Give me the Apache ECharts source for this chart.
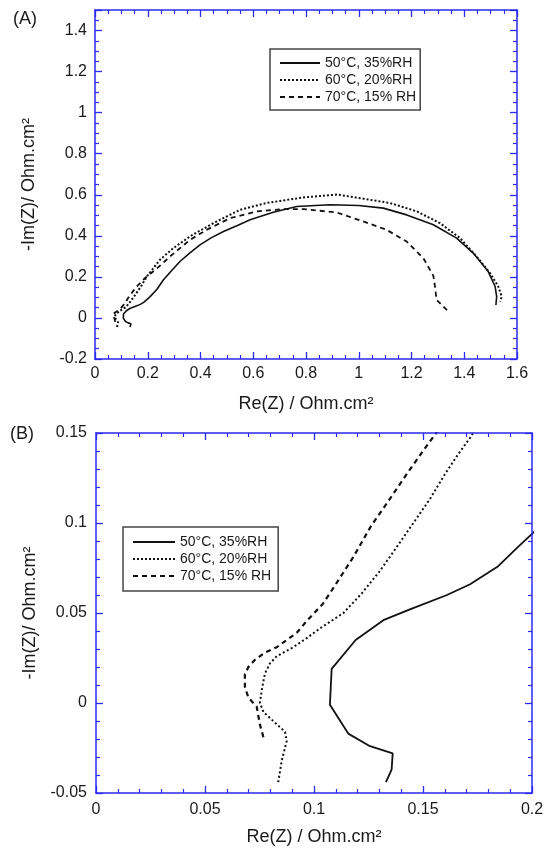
<!DOCTYPE html>
<html>
<head>
<meta charset="utf-8">
<script src="https://cdn.jsdelivr.net/npm/echarts@6/dist/echarts.min.js"></script>
<style>
html,body{margin:0;padding:0;background:#fff;}
#c{width:553px;height:856px;}
</style>
</head>
<body>
<div id="c"></div>
<script>
// ---- data (Re(Z), -Im(Z)) in Ohm.cm2 ----
const seriesNames = ['50°C, 35%RH', '60°C, 20%RH', '70°C, 15% RH'];

const s50 = [[0.133,-0.044],[0.1356,-0.037],[0.1361,-0.028],[0.1257,-0.024],[0.1157,-0.017],[0.1073,-0.001],[0.1081,0.019],[0.1191,0.035],[0.1318,0.046],[0.144,0.052],[0.161,0.060],[0.1716,0.066],[0.1845,0.076],[0.193,0.086],[0.2,0.094],[0.209,0.104],[0.235,0.14],[0.259,0.185],[0.29,0.23],[0.322,0.275],[0.36,0.317],[0.398,0.356],[0.44,0.39],[0.487,0.421],[0.54,0.45],[0.588,0.478],[0.676,0.515],[0.765,0.543],[0.891,0.551],[1.0,0.548],[1.093,0.535],[1.182,0.502],[1.283,0.454],[1.371,0.389],[1.434,0.316],[1.491,0.226],[1.517,0.153],[1.523,0.104],[1.520,0.063]];

const s60 = [[0.0836,-0.044],[0.0852,-0.032],[0.0875,-0.021],[0.0867,-0.016],[0.0813,-0.010],[0.0768,-0.005],[0.0752,0.0],[0.076,0.007],[0.0775,0.0165],[0.0798,0.022],[0.0829,0.026],[0.0905,0.031],[0.0966,0.036],[0.1028,0.0415],[0.1135,0.05],[0.122,0.061],[0.130,0.073],[0.137,0.085],[0.145,0.099],[0.153,0.113],[0.160,0.127],[0.166,0.138],[0.172,0.148],[0.196,0.201],[0.246,0.283],[0.297,0.34],[0.36,0.397],[0.449,0.462],[0.55,0.527],[0.651,0.56],[0.79,0.587],[0.92,0.601],[0.992,0.586],[1.118,0.56],[1.22,0.519],[1.308,0.462],[1.384,0.389],[1.447,0.299],[1.498,0.218],[1.529,0.153],[1.542,0.104],[1.536,0.08]];

const s70 = [[0.0768,-0.019],[0.0752,-0.012],[0.0737,-0.002],[0.0699,0.003],[0.0683,0.009],[0.0683,0.016],[0.0699,0.020],[0.0729,0.024],[0.0775,0.028],[0.0829,0.031],[0.0875,0.035],[0.0921,0.039],[0.097,0.046],[0.104,0.055],[0.110,0.066],[0.118,0.081],[0.126,0.098],[0.134,0.112],[0.143,0.128],[0.150,0.140],[0.156,0.150],[0.19,0.195],[0.234,0.24],[0.284,0.299],[0.36,0.38],[0.423,0.429],[0.512,0.486],[0.613,0.519],[0.714,0.530],[0.79,0.53],[0.916,0.514],[1.017,0.47],[1.106,0.429],[1.182,0.372],[1.245,0.291],[1.283,0.205],[1.289,0.153],[1.295,0.088],[1.34,0.031]];

// axis ranges [min, max, step]
const xAxisA = [0, 1.6, 0.2];
const yAxisA = [-0.2, 1.5, 0.2];
const xAxisB = [0, 0.2, 0.05];
const yAxisB = [-0.05, 0.15, 0.05];
const xTitle = 'Re(Z) / Ohm.cm²';
const yTitle = '-Im(Z)/ Ohm.cm²';
const panelLabels = ['(A)', '(B)'];

// ---- styles ----
const BLUE = '#2a2af0';
const FONT = '"Liberation Sans", Arial, sans-serif';
const TXT = '#1a1a1a';

function axis(kind, grid, r, minorSplit, opts) {
  opts = opts || {};
  const a = {
    type: 'value', gridIndex: grid, min: r[0], max: r[1], interval: r[2],
    position: opts.position,
    axisLine: { show: true, onZero: false, lineStyle: { color: BLUE, width: 1.5 } },
    axisTick: { show: true, inside: true, length: 7, lineStyle: { color: BLUE, width: 1.3 } },
    minorTick: { show: true, splitNumber: minorSplit, length: 4, lineStyle: { color: BLUE, width: 1.2 } },
    splitLine: { show: false },
    minorSplitLine: { show: false },
    axisLabel: { show: !opts.mirror, color: TXT, fontSize: 16, fontFamily: FONT, margin: opts.margin || 8,
      showMaxLabel: opts.hideMax ? false : true },
    z: 5
  };
  if (opts.name) {
    a.name = opts.name;
    a.nameLocation = 'middle';
    a.nameGap = opts.nameGap;
    a.nameTextStyle = { color: TXT, fontSize: 18, fontFamily: FONT };
  }
  return a;
}

function lineSeries(name, data, xi, yi, type, width) {
  return {
    type: 'line', name: name, data: data, xAxisIndex: xi, yAxisIndex: yi,
    showSymbol: false, symbol: 'none', smooth: false, clip: true, animation: false,
    itemStyle: { color: '#111' },
    lineStyle: { color: '#111', width: width, type: type }
  };
}

const chart = echarts.init(document.getElementById('c'), null, { renderer: 'canvas' });

const legendBase = {
  orient: 'vertical', itemWidth: 40, itemHeight: 14, itemGap: 3,
  borderColor: '#444', borderWidth: 1.5, backgroundColor: '#fff',
  textStyle: { color: TXT, fontSize: 14, fontFamily: FONT, lineHeight: 14 },
  itemStyle: { opacity: 0 },
  data: seriesNames, selectedMode: false
};

chart.setOption({
  animation: false,
  backgroundColor: '#fff',
  grid: [
    { left: 95, top: 10, width: 422, height: 349 },
    { left: 96, top: 433, width: 436, height: 360 }
  ],
  xAxis: [
    axis('x', 0, xAxisA, 4, { position: 'bottom', name: xTitle, nameGap: 36, margin: 7 }),
    axis('x', 0, xAxisA, 4, { position: 'top', mirror: true }),
    axis('x', 1, xAxisB, 5, { position: 'bottom', name: xTitle, nameGap: 35, margin: 9 }),
    axis('x', 1, xAxisB, 5, { position: 'top', mirror: true })
  ],
  yAxis: [
    axis('y', 0, yAxisA, 4, { position: 'left', name: yTitle, nameGap: 57, hideMax: true }),
    axis('y', 0, yAxisA, 4, { position: 'right', mirror: true }),
    axis('y', 1, yAxisB, 5, { position: 'left', name: yTitle, nameGap: 57, margin: 9 }),
    axis('y', 1, yAxisB, 5, { position: 'right', mirror: true })
  ],
  legend: [
    Object.assign({}, legendBase, { left: 270, top: 49, padding: [7, 4, 6, 9] }),
    Object.assign({}, legendBase, { left: 123, top: 527, padding: [8, 7, 8, 9], itemWidth: 42 })
  ],
  graphic: [
    { type: 'text', left: 13, top: 10, style: { text: panelLabels[0], fill: TXT, font: '18px ' + FONT } },
    { type: 'text', left: 10, top: 425, style: { text: panelLabels[1], fill: TXT, font: '18px ' + FONT } }
  ],
  series: [
    lineSeries(seriesNames[0], s50, 0, 0, 'solid', 1.6),
    lineSeries(seriesNames[1], s60, 0, 0, [2, 2], 2),
    lineSeries(seriesNames[2], s70, 0, 0, [5, 4], 1.8),
    lineSeries(seriesNames[0], s50, 2, 2, 'solid', 1.8),
    lineSeries(seriesNames[1], s60, 2, 2, [2, 2.5], 2),
    lineSeries(seriesNames[2], s70, 2, 2, [5, 4], 2.2)
  ]
});
</script>
</body>
</html>
